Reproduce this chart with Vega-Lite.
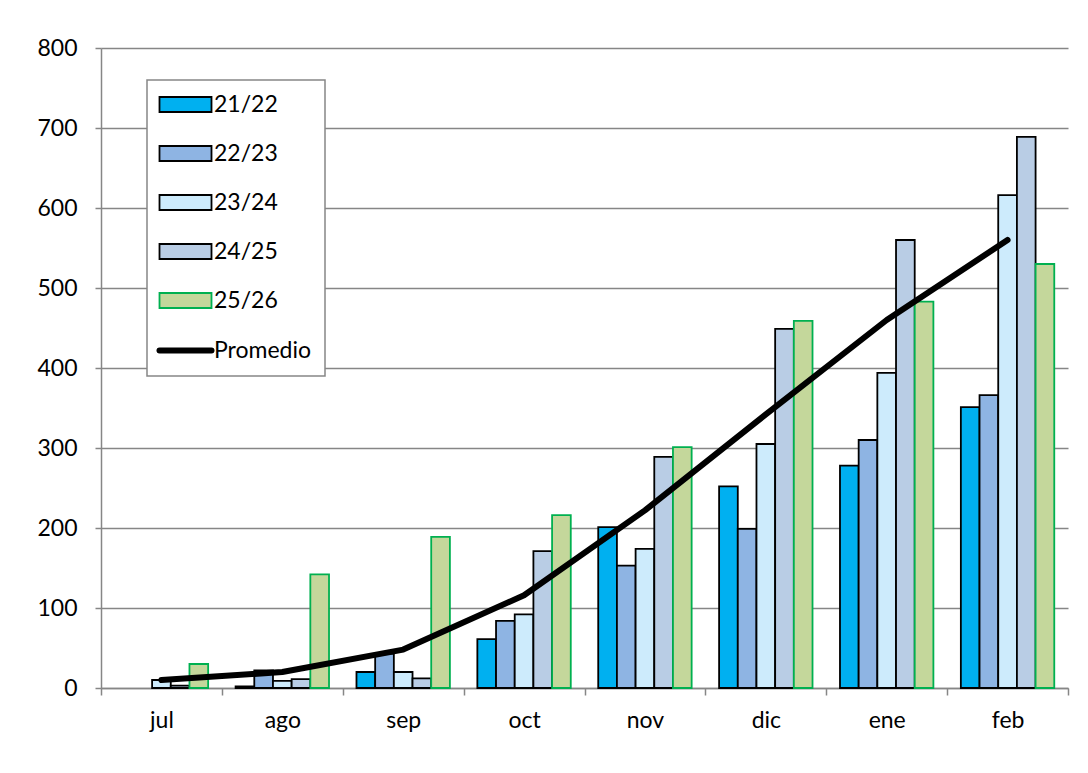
{
  "$schema": "https://vega.github.io/schema/vega-lite/v6.json",
  "autosize": "none",
  "width": 967,
  "height": 640,
  "padding": {"left": 101, "top": 48, "right": 20, "bottom": 85},
  "background": "white",
  "config": {"view": {"stroke": null}, "font": "Lato"},
  "datasets": {
    "barras": [
      {"mes": "jul", "temporada": "21/22", "valor": 0},
      {"mes": "jul", "temporada": "22/23", "valor": 0},
      {"mes": "jul", "temporada": "23/24", "valor": 10},
      {"mes": "jul", "temporada": "24/25", "valor": 3},
      {"mes": "jul", "temporada": "25/26", "valor": 30},
      {"mes": "ago", "temporada": "21/22", "valor": 2},
      {"mes": "ago", "temporada": "22/23", "valor": 22},
      {"mes": "ago", "temporada": "23/24", "valor": 9},
      {"mes": "ago", "temporada": "24/25", "valor": 11},
      {"mes": "ago", "temporada": "25/26", "valor": 142},
      {"mes": "sep", "temporada": "21/22", "valor": 20},
      {"mes": "sep", "temporada": "22/23", "valor": 43},
      {"mes": "sep", "temporada": "23/24", "valor": 20},
      {"mes": "sep", "temporada": "24/25", "valor": 12},
      {"mes": "sep", "temporada": "25/26", "valor": 189},
      {"mes": "oct", "temporada": "21/22", "valor": 61},
      {"mes": "oct", "temporada": "22/23", "valor": 84},
      {"mes": "oct", "temporada": "23/24", "valor": 92},
      {"mes": "oct", "temporada": "24/25", "valor": 171},
      {"mes": "oct", "temporada": "25/26", "valor": 216},
      {"mes": "nov", "temporada": "21/22", "valor": 201},
      {"mes": "nov", "temporada": "22/23", "valor": 153},
      {"mes": "nov", "temporada": "23/24", "valor": 174},
      {"mes": "nov", "temporada": "24/25", "valor": 289},
      {"mes": "nov", "temporada": "25/26", "valor": 301},
      {"mes": "dic", "temporada": "21/22", "valor": 252},
      {"mes": "dic", "temporada": "22/23", "valor": 199},
      {"mes": "dic", "temporada": "23/24", "valor": 305},
      {"mes": "dic", "temporada": "24/25", "valor": 449},
      {"mes": "dic", "temporada": "25/26", "valor": 459},
      {"mes": "ene", "temporada": "21/22", "valor": 278},
      {"mes": "ene", "temporada": "22/23", "valor": 310},
      {"mes": "ene", "temporada": "23/24", "valor": 394},
      {"mes": "ene", "temporada": "24/25", "valor": 560},
      {"mes": "ene", "temporada": "25/26", "valor": 483},
      {"mes": "feb", "temporada": "21/22", "valor": 351},
      {"mes": "feb", "temporada": "22/23", "valor": 366},
      {"mes": "feb", "temporada": "23/24", "valor": 616},
      {"mes": "feb", "temporada": "24/25", "valor": 689},
      {"mes": "feb", "temporada": "25/26", "valor": 530}
    ],
    "promedio": [
      {"mes": "jul", "valor": 10},
      {"mes": "ago", "valor": 20},
      {"mes": "sep", "valor": 48},
      {"mes": "oct", "valor": 116},
      {"mes": "nov", "valor": 222},
      {"mes": "dic", "valor": 342},
      {"mes": "ene", "valor": 460},
      {"mes": "feb", "valor": 560}
    ]
  },
  "layer": [
    {
      "data": {"name": "barras"},
      "transform": [{"filter": "datum.valor > 0"}],
      "mark": {"type": "bar", "strokeWidth": 1.8},
      "encoding": {
        "x": {
          "field": "mes", "type": "nominal",
          "sort": ["jul", "ago", "sep", "oct", "nov", "dic", "ene", "feb"],
          "scale": {"domain": ["jul", "ago", "sep", "oct", "nov", "dic", "ene", "feb"], "paddingInner": 0, "paddingOuter": 0},
          "axis": {
            "title": null, "tickBand": "extent", "labelAngle": 0, "grid": false,
            "domainColor": "#868686", "domainWidth": 1.5,
            "tickColor": "#868686", "tickWidth": 1.5, "tickSize": 7,
            "labelFont": "Lato", "labelFontSize": 23, "labelPadding": 14, "labelColor": "black"
          }
        },
        "xOffset": {
          "field": "temporada", "type": "nominal",
          "scale": {"domain": ["21/22", "22/23", "23/24", "24/25", "25/26"], "paddingInner": 0, "paddingOuter": 0.735}
        },
        "y": {
          "field": "valor", "type": "quantitative",
          "scale": {"domain": [0, 800], "nice": false},
          "axis": {
            "title": null, "values": [0, 100, 200, 300, 400, 500, 600, 700, 800],
            "grid": true, "gridColor": "#868686", "gridWidth": 1.5,
            "domainColor": "#868686", "domainWidth": 1.5,
            "tickColor": "#868686", "tickWidth": 1.5, "tickSize": 6,
            "labelFont": "Lato", "labelFontSize": 23, "labelPadding": 18, "labelColor": "black"
          }
        },
        "fill": {
          "field": "temporada", "type": "nominal",
          "scale": {
            "domain": ["21/22", "22/23", "23/24", "24/25", "25/26", "Promedio"],
            "range": ["#00B0F0", "#8EB4E3", "#CDEBFC", "#B9CDE5", "#C4D79B", "#000000"]
          },
          "legend": {
            "title": null, "orient": "none", "legendX": 46, "legendY": 32,
            "strokeColor": "#868686", "fillColor": "white",
            "padding": 13, "labelFont": "Lato", "labelFontSize": 23, "labelColor": "black",
            "symbolSize": 400, "rowPadding": 25, "symbolOffset": 14, "labelOffset": 17,
            "encode": {
              "legend": {"update": {"strokeWidth": {"value": 1.5}}},
              "symbols": {
                "update": {
                  "shape": {"signal": "datum.value === 'Promedio' ? 'M-2.6,0H2.6' : 'M-2.6,-0.75H2.6V0.75H-2.6Z'"},
                  "stroke": {"signal": "datum.value === '25/26' ? '#00B050' : 'black'"},
                  "strokeWidth": {"signal": "datum.value === 'Promedio' ? 6 : 1.8"},
                  "strokeCap": {"value": "round"},
                  "opacity": {"value": 1},
                  "fillOpacity": {"value": 1}
                }
              }
            }
          }
        },
        "stroke": {
          "field": "temporada", "type": "nominal",
          "scale": {
            "domain": ["21/22", "22/23", "23/24", "24/25", "25/26"],
            "range": ["#000000", "#000000", "#000000", "#000000", "#00B050"]
          },
          "legend": null
        }
      }
    },
    {
      "data": {"name": "promedio"},
      "mark": {"type": "line", "color": "black", "strokeWidth": 6, "strokeCap": "round", "strokeJoin": "round"},
      "encoding": {
        "x": {"field": "mes", "type": "nominal", "sort": ["jul", "ago", "sep", "oct", "nov", "dic", "ene", "feb"]},
        "y": {"field": "valor", "type": "quantitative"}
      }
    }
  ]
}
